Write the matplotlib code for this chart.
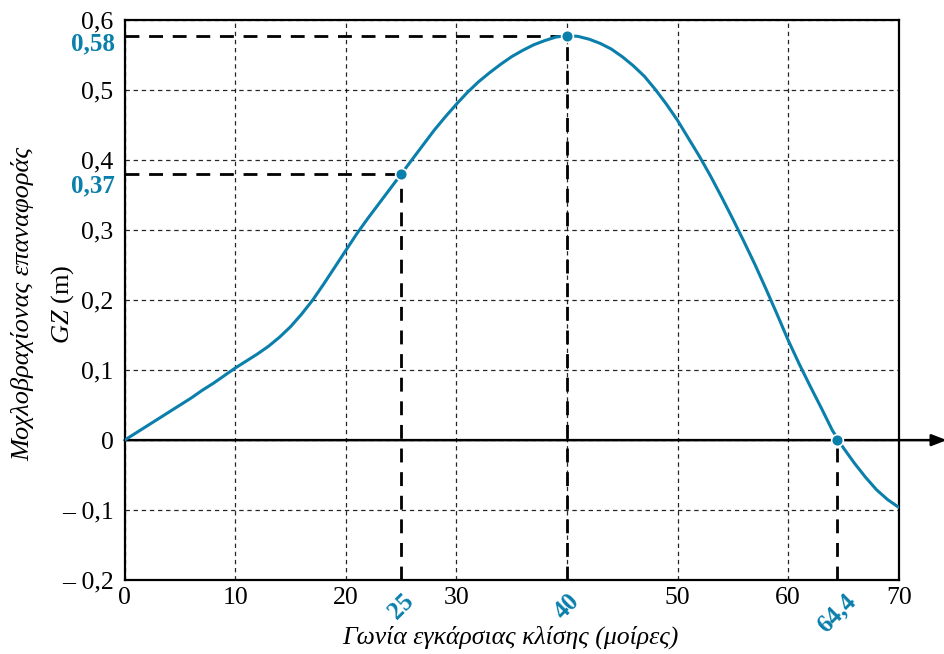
import matplotlib.pyplot as plt
import numpy as np

# GZ curve, one reading per degree
angle = list(range(0, 71))
gz = [0.000, 0.010, 0.020, 0.030, 0.040, 0.050, 0.060, 0.071, 0.081, 0.092,
      0.103, 0.113, 0.123, 0.134, 0.147, 0.162, 0.180, 0.200, 0.223, 0.247,
      0.271, 0.295, 0.317, 0.338, 0.359, 0.380, 0.401, 0.422, 0.443, 0.462,
      0.480, 0.497, 0.512, 0.525, 0.537, 0.548, 0.557, 0.565, 0.571, 0.576,
      0.578, 0.577, 0.573, 0.567, 0.559, 0.548, 0.535, 0.520, 0.501, 0.480,
      0.457, 0.431, 0.405, 0.377, 0.347, 0.316, 0.284, 0.251, 0.216, 0.180,
      0.143, 0.109, 0.077, 0.046, 0.014, -0.011, -0.033, -0.053, -0.071, -0.085,
      -0.096]

# marked points
pt_x = [25, 40, 64.4]
pt_y = [0.38, 0.578, 0.0]
pt_xlabels = ["25", "40", "64,4"]
pt_ylabels = ["0,37", "0,58"]

xticks = [0, 10, 20, 30, 40, 50, 60, 70]
xticklabels = ["0", "10", "20", "30", "", "50", "60", "70"]
yticks = [-0.2, -0.1, 0, 0.1, 0.2, 0.3, 0.4, 0.5, 0.6]
yticklabels = ["– 0,2", "– 0,1", "0", "0,1", "0,2", "0,3", "0,4", "0,5", "0,6"]

blue = "#0a7fab"
plt.rcParams["font.family"] = ["Liberation Serif", "DejaVu Serif"]
plt.rcParams["mathtext.fontset"] = "custom"
plt.rcParams["mathtext.it"] = "Liberation Serif:italic"
plt.rcParams["mathtext.rm"] = "Liberation Serif"

fig = plt.figure(figsize=(9.44, 6.54), dpi=100)
ax = fig.add_axes([0.132, 0.113, 0.820, 0.856])

ax.set_xlim(0, 70)
ax.set_ylim(-0.2, 0.6)
ax.set_xticks(xticks)
ax.set_xticklabels(xticklabels)
ax.set_yticks(yticks)
ax.set_yticklabels(yticklabels)
ax.tick_params(length=0, labelsize=18.5, pad=8)
ax.tick_params(axis="x", pad=5)
for s in ax.spines.values():
	s.set_linewidth(1.6)
	s.set_color("black")

ax.grid(True, linestyle=(0, (3.5, 3)), color="black", linewidth=0.9, alpha=0.85)

# x axis arrow at GZ = 0
ax.annotate("", xy=(1.062, 0), xycoords=("axes fraction", "data"),
			xytext=(0, 0), textcoords="data",
			arrowprops=dict(arrowstyle="-|>,head_length=0.9,head_width=0.35",
							color="black", lw=1.8, shrinkA=0, shrinkB=0),
			annotation_clip=False)

# dashed guides
dash = (0, (5, 3.5))
ax.plot([0, pt_x[0]], [pt_y[0], pt_y[0]], color="black", lw=2, linestyle=dash)
ax.plot([pt_x[0], pt_x[0]], [-0.2, pt_y[0]], color="black", lw=2, linestyle=dash)
ax.plot([0, pt_x[1]], [pt_y[1], pt_y[1]], color="black", lw=2, linestyle=dash)
ax.plot([pt_x[1], pt_x[1]], [-0.2, pt_y[1]], color="black", lw=2, linestyle=dash)
ax.plot([pt_x[2], pt_x[2]], [-0.2, pt_y[2]], color="black", lw=2, linestyle=dash)

ax.plot(angle, gz, color=blue, lw=2.2, solid_capstyle="round", zorder=4)
ax.plot(pt_x, pt_y, "o", color=blue, markersize=8.5, markeredgecolor="white",
		markeredgewidth=1.2, zorder=5, clip_on=False)

# blue value labels
for lab, yv, dy in zip(pt_ylabels, [pt_y[0], pt_y[1]], [-8, -6]):
	ax.annotate(lab, xy=(0, yv), xycoords="data", xytext=(-7, dy),
				textcoords="offset points", ha="right", va="center",
				color=blue, fontsize=18, fontweight="bold", annotation_clip=False)
for lab, xv in zip(pt_xlabels, pt_x):
	ax.annotate(lab, xy=(xv, -0.2), xycoords="data", xytext=(0, -7),
				textcoords="offset points", ha="center", va="top", rotation=45,
				color=blue, fontsize=18, fontweight="bold", annotation_clip=False)

fig.text(0.541, 0.026, "Γωνία εγκάρσιας κλίσης (μοίρες)", fontsize=18.5,
		 style="italic", ha="center", va="center")
fig.text(0.024, 0.535, "Μοχλοβραχίονας επαναφοράς", rotation=90, fontsize=19,
		 style="italic", ha="center", va="center")
fig.text(0.066, 0.535, "$GZ$ (m)", rotation=90, fontsize=19,
		 ha="center", va="center")

fig.savefig("out.png", dpi=100)
